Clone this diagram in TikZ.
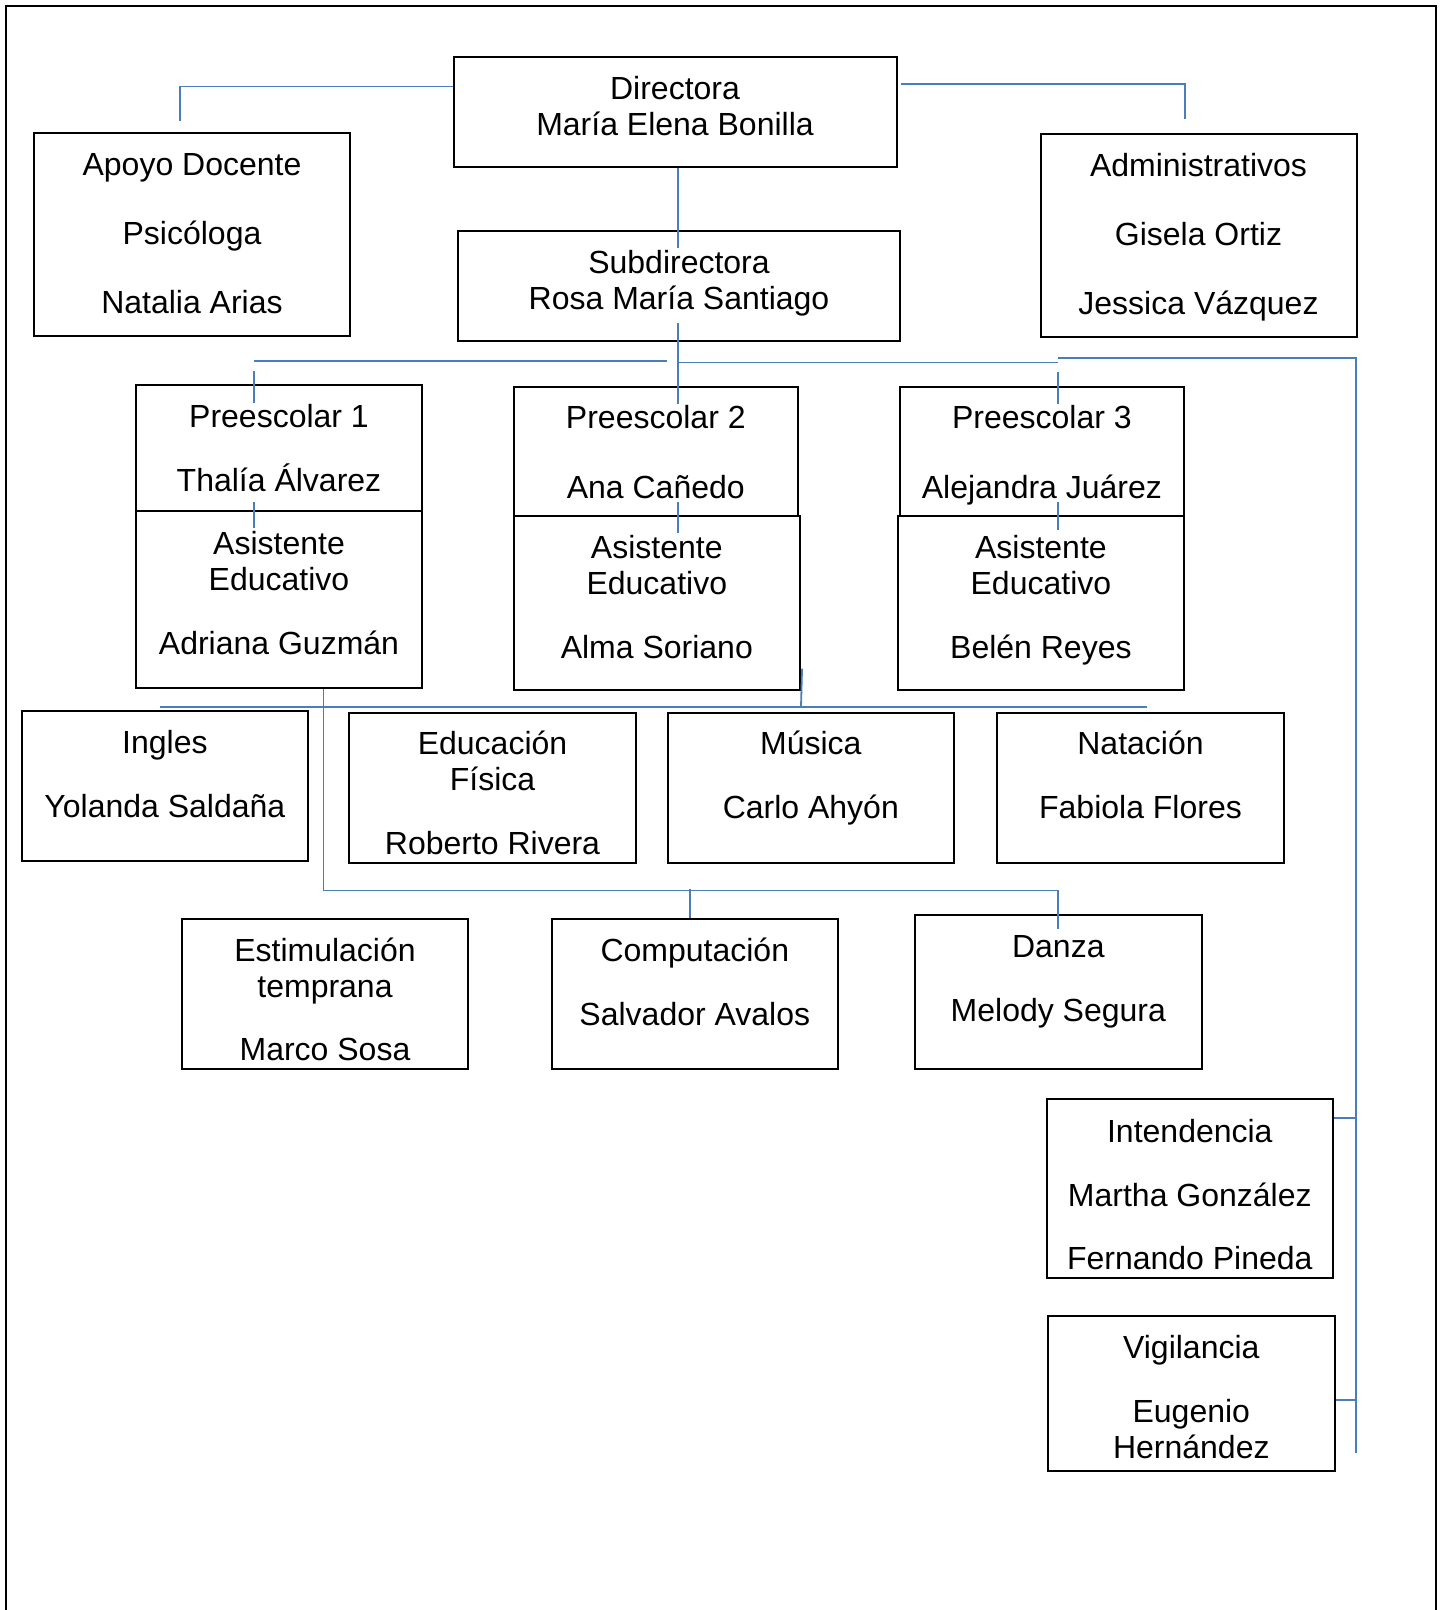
\documentclass[tikz,border=0pt]{standalone}
\usepackage{fontspec}
\setmainfont{Liberation Sans}
\definecolor{linkblue}{HTML}{4A7EBB}
\tikzset{
  box/.style={draw, line width=1pt, inner sep=0pt},
  sz/.style 2 args={minimum width=#1*0.5pt, minimum height=#2*0.5pt},
  txt/.style={anchor=base, align=center, inner sep=0pt, yshift=-1.3pt, font=\fontsize{16}{18}\selectfont},
  link/.style={draw=linkblue, line width=0.9pt}
}

\begin{document}
\begin{tikzpicture}[x=0.5pt, y=-0.5pt]
\useasboundingbox (0,0) rectangle (1444,1610);
\draw[line width=1pt] (6,1610) -- (6,6) -- (1436,6) -- (1436,1610);

\node[box, sz={443}{110}] (dir) at (675,112.5) {};
\node[box, sz={316}{203}] (apoyo) at (192,235) {};
\node[box, sz={316}{203}] (admin) at (1198.5,236) {};
\node[box, sz={442}{110}] (subdir) at (679,286) {};
\node[box, sz={286.5}{126}] (pre1) at (279,448.3) {};
\node[box, sz={286.5}{177}] (asi1) at (279,599.8) {};
\node[box, sz={284.5}{128.4}] (pre2) at (655.8,451.4) {};
\node[box, sz={286.5}{174.5}] (asi2) at (656.8,602.9) {};
\node[box, sz={284.4}{128.4}] (pre3) at (1041.9,451.4) {};
\node[box, sz={286.5}{174.5}] (asi3) at (1040.9,602.9) {};
\node[box, sz={286.5}{150}] (ingles) at (164.9,785.7) {};
\node[box, sz={286.5}{150}] (edfis) at (492.5,787.7) {};
\node[box, sz={286.5}{150}] (musica) at (810.8,787.7) {};
\node[box, sz={286.5}{150}] (natacion) at (1140.5,787.7) {};
\node[box, sz={286.5}{150}] (estim) at (325,994.1) {};
\node[box, sz={286.5}{150}] (comput) at (694.8,994.1) {};
\node[box, sz={286.5}{154}] (danza) at (1058.3,992.1) {};
\node[box, sz={286.5}{178.7}] (intend) at (1189.8,1188.2) {};
\node[box, sz={287.6}{155}] (vigil) at (1191.3,1393.1) {};

\node[txt] (dirT) at (dir.north |- 0,133) {Directora\\María Elena Bonilla};
\node[txt] (apoyoT) at (apoyo.north |- 0,310.6) {Apoyo Docente\\[16.4pt]Psicóloga\\[16.4pt]Natalia Arias};
\node[txt] (adminT) at (admin.north |- 0,311.6) {Administrativos\\[16.4pt]Gisela Ortiz\\[16.4pt]Jessica Vázquez};
\node[txt] (subdirT) at (subdir.north |- 0,307) {Subdirectora\\Rosa María Santiago};
\node[txt] (pre1T) at (pre1.north |- 0,488.8) {Preescolar 1\\[13.9pt]Thalía Álvarez};
\node[txt] (asi1T) at (asi1.north |- 0,651.8) {Asistente\\Educativo\\[13.9pt]Adriana Guzmán};
\node[txt] (pre2T) at (pre2.north |- 0,495.8) {Preescolar 2\\[16.9pt]Ana Cañedo};
\node[txt] (asi2T) at (asi2.north |- 0,655.8) {Asistente\\Educativo\\[13.9pt]Alma Soriano};
\node[txt] (pre3T) at (pre3.north |- 0,495.8) {Preescolar 3\\[16.9pt]Alejandra Juárez};
\node[txt] (asi3T) at (asi3.north |- 0,655.8) {Asistente\\Educativo\\[13.9pt]Belén Reyes};
\node[txt] (inglesT) at (ingles.north |- 0,814.8) {Ingles\\[13.9pt]Yolanda Saldaña};
\node[txt] (edfisT) at (edfis.north |- 0,851.8) {Educación\\Física\\[13.9pt]Roberto Rivera};
\node[txt] (musicaT) at (musica.north |- 0,815.8) {Música\\[13.9pt]Carlo Ahyón};
\node[txt] (natacionT) at (natacion.north |- 0,815.8) {Natación\\[13.9pt]Fabiola Flores};
\node[txt] (estimT) at (estim.north |- 0,1057.6) {Estimulación\\temprana\\[13.3pt]Marco Sosa};
\node[txt] (computT) at (comput.north |- 0,1022.8) {Computación\\[13.9pt]Salvador Avalos};
\node[txt] (danzaT) at (danza.north |- 0,1018.8) {Danza\\[13.9pt]Melody Segura};
\node[txt] (intendT) at (intend.north |- 0,1266.4) {Intendencia\\[13.9pt]Martha González\\[13.3pt]Fernando Pineda};
\node[txt] (vigilT) at (vigil.north |- 0,1455.8) {Vigilancia\\[13.9pt]Eugenio\\Hernández};

\coordinate (apoyoUp) at (180,121);
\coordinate (adminUp) at (1185,119);
\coordinate (subIn) at (678,248);
\coordinate (subOut) at (678,323);
\coordinate (pre2In) at (678,404);
\coordinate (barL) at (254,361);
\coordinate (hub) at (678,362.5);
\coordinate (barR) at (1058,362.5);
\coordinate (railTop) at (1356,358.4);
\coordinate (railEnd) at (1356,1453);
\coordinate (pre1In) at (254,403);
\coordinate (pre3In) at (1058,404);
\coordinate (midBar) at (801,706.6);
\coordinate (barL2) at (160,706.6);
\coordinate (barR2) at (1147,706.6);
\coordinate (lowBarL) at (323.5,890.4);
\coordinate (lowBarR) at (1058,890.4);

\draw[link] ([yshift=-15pt]dir.north west) -| (apoyoUp);
\draw[link] ([xshift=1.5pt,yshift=-13.75pt]dir.north east) -| (adminUp);
\draw[link] (dir.south -| subIn) -- (subIn);
\draw[link] (subOut) -- (pre2In);
\draw[link] (barL) -- ++(413,0);
\draw[link] (hub) -- (barR);
\draw[link] (barR |- railTop) -- (railTop) -- (railEnd);
\draw[link] ([yshift=-5pt]barL) -- (pre1In);
\draw[link] ([yshift=-5pt]barR) -- (pre3In);
\draw[link] (asi1.north -| barL) ++(0,-8) -- ++(0,26);
\draw[link] (asi2.north -| hub) ++(0,-12.6) -- ++(0,31);
\draw[link] (asi3.north -| barR) ++(0,-12.6) -- ++(0,28);
\draw[link] (asi2.south east) ++(1,-22.6) -- (midBar);
\draw[link] (barL2) -- (barR2);
\draw[link] (asi1.south -| lowBarL) -- (lowBarL) -- (lowBarR);
\draw[link] (comput.north) ++(-4.8,0) -- ++(0,-28.8);
\draw[link] (lowBarR) -- ++(0,39);
\draw[link] ([yshift=-10.25pt]intend.north east) -- ++(23,0);
\draw[link] ([yshift=-42.7pt]vigil.north east) -- ++(21,0);
\end{tikzpicture}
\end{document}
